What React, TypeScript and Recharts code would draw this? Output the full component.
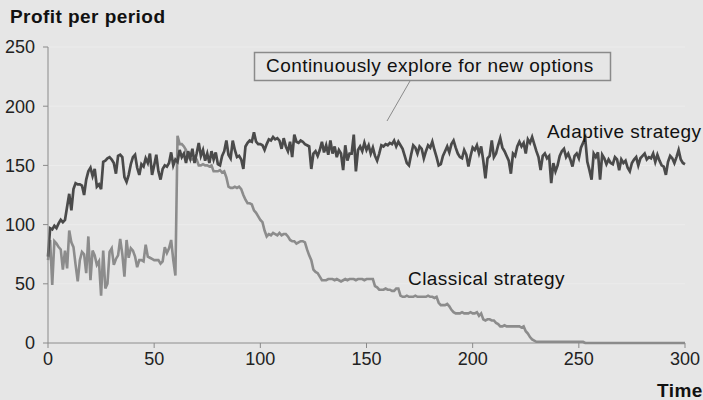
import { LineChart, Line, XAxis, YAxis, CartesianGrid } from "recharts";

// profit per period, one value per time step (t = 0..300)
const adaptive = [
  73, 97, 96, 99, 97, 101, 104, 102, 104, 115,
  126, 112, 130, 135, 134, 134, 133, 125, 138, 145,
  148, 141, 147, 132, 134, 130, 153, 154, 156, 157,
  155, 152, 143, 158, 159, 157, 140, 136, 142, 151,
  157, 159, 148, 142, 151, 149, 156, 152, 160, 142,
  150, 159, 145, 138, 147, 150, 149, 152, 161, 150,
  155, 153, 163, 157, 160, 152, 162, 156, 164, 152,
  160, 169, 158, 163, 154, 160, 152, 162, 155, 161,
  151, 150, 158, 162, 171, 159, 156, 171, 163, 157,
  158, 155, 147, 166, 169, 171, 170, 178, 170, 168,
  168, 167, 163, 168, 172, 171, 174, 172, 173, 171,
  164, 173, 166, 162, 170, 157, 176, 170, 169, 171,
  170, 168, 167, 166, 147, 160, 162, 158, 163, 170,
  161, 167, 159, 171, 160, 166, 157, 163, 160, 146,
  167, 154, 160, 160, 176, 145, 163, 166, 162, 169,
  163, 167, 160, 165, 158, 154, 160, 167, 166, 168,
  167, 169, 168, 171, 166, 170, 167, 164, 158, 152,
  150, 159, 167, 165, 160, 166, 164, 156, 162, 167,
  165, 170, 163, 157, 150, 151, 158, 162, 166, 161,
  168, 171, 165, 160, 157, 156, 163, 159, 149, 158,
  165, 163, 167, 160, 166, 154, 139, 156, 158, 171,
  157, 160, 167, 173, 165, 162, 158, 154, 143, 160,
  158, 166, 170, 166, 169, 160, 172, 169, 174, 168,
  162, 157, 146, 158, 160, 156, 158, 135, 152, 145,
  150, 158, 162, 164, 157, 160, 155, 149, 158, 160,
  156, 165, 169, 173, 153, 146, 138, 160, 157, 161,
  138, 159, 156, 151, 155, 152, 151, 157, 155, 146,
  155, 152, 154, 148, 145, 152, 155, 157, 150, 156,
  158, 160, 155, 157, 156, 160, 153, 159, 154, 150,
  149, 142, 153, 158, 156, 152, 157, 163, 155, 152,
  151,
];

const classical = [
  70, 87, 49, 86, 84, 81, 79, 62, 78, 63,
  95, 85, 81, 66, 52, 70, 77, 75, 59, 90,
  53, 78, 74, 66, 69, 40, 78, 46, 50, 77,
  80, 66, 71, 74, 88, 75, 56, 87, 72, 80,
  78, 73, 64, 70, 70, 69, 83, 73, 72, 71,
  70, 70, 70, 67, 69, 81, 76, 80, 87, 70,
  57, 175, 168, 168, 166, 163, 157, 155, 155, 156,
  155, 150, 150, 151, 150, 150, 149, 150, 145, 145,
  145, 146, 144, 145, 140, 132, 131, 131, 132, 131,
  132, 130, 125, 121, 118, 118, 117, 112, 110, 107,
  104, 102, 95, 90, 92, 91, 93, 92, 91, 93,
  91, 92, 92, 90, 87, 86, 86, 84, 85, 86,
  86, 85, 79, 74, 70, 62, 60, 59, 56, 53,
  53, 53, 54, 54, 54, 53, 54, 53, 52, 53,
  54, 53, 54, 54, 54, 53, 54, 54, 54, 53,
  54, 54, 54, 54, 48, 47, 45, 45, 45, 46,
  45, 45, 44, 44, 46, 46, 40, 39, 39, 40,
  39, 39, 39, 40, 39, 39, 39, 39, 39, 40,
  39, 39, 38, 39, 34, 32, 32, 32, 33, 31,
  28, 26, 25, 25, 25, 26, 25, 25, 25, 26,
  25, 25, 26, 23, 25, 20, 19, 20, 20, 19,
  19, 17, 16, 14, 14, 15, 14, 14, 14, 14,
  14, 14, 14, 13, 14, 10, 8, 5, 3, 2,
  1, 1, 1, 1, 1, 1, 1, 1, 1, 1,
  1, 1, 1, 1, 1, 1, 1, 1, 1, 1,
  1, 1, 1, 0, 0, 0, 0, 0, 0, 0,
  0, 0, 0, 0, 0, 0, 0, 0, 0, 0,
  0, 0, 0, 0, 0, 0, 0, 0, 0, 0,
  0, 0, 0, 0, 0, 0, 0, 0, 0, 0,
  0, 0, 0, 0, 0, 0, 0, 0, 0, 0,
  0,
];

const xTicks = [0, 50, 100, 150, 200, 250, 300];
const yTicks = [0, 50, 100, 150, 200, 250];

const data = adaptive.map((v, i) => ({ t: i, adaptive: v, classical: classical[i] }));

const FONT = "'Liberation Sans', Arial, Helvetica, sans-serif";
const BG = "#e6e6e6";
const AXIS = "#8a8a8a";

const tickStyle = { fontSize: 18, fill: "#222", fontFamily: FONT };
const labelProps = { fontSize: 19, fontFamily: FONT, fill: "#111", letterSpacing: 0.45 };

export default function App() {
  return (
    <div
      style={{
        position: "absolute",
        left: 0,
        top: 0,
        width: 703,
        height: 400,
        background: BG,
        fontFamily: FONT,
        overflow: "hidden",
      }}
    >
      <LineChart
        width={703}
        height={400}
        data={data}
        margin={{ top: 47, right: 18, bottom: 27, left: 0 }}
      >
        <CartesianGrid horizontal vertical={false} stroke="#ececec" strokeWidth={1} />
        <XAxis
          dataKey="t"
          type="number"
          domain={[0, 300]}
          ticks={xTicks}
          tick={tickStyle}
          tickSize={5}
          tickMargin={4}
          stroke={AXIS}
          height={30}
        />
        <YAxis
          type="number"
          domain={[0, 250]}
          ticks={yTicks}
          tick={tickStyle}
          tickSize={5}
          tickMargin={8}
          stroke={AXIS}
          width={48}
        />
        <Line
          dataKey="classical"
          type="linear"
          stroke="#8c8c8c"
          strokeWidth={2.6}
          dot={false}
          isAnimationActive={false}
        />
        <Line
          dataKey="adaptive"
          type="linear"
          stroke="#4a4a4a"
          strokeWidth={2.7}
          dot={false}
          isAnimationActive={false}
        />
      </LineChart>

      {/* annotations */}
      <svg
        width={703}
        height={400}
        style={{ position: "absolute", left: 0, top: 0, pointerEvents: "none" }}
      >
        <line x1={410} y1={81} x2={387} y2={121} stroke="#8a8a8a" strokeWidth={1} />
        <rect x={254.5} y={52.5} width={356} height={28} fill={BG} stroke="#8a8a8a" strokeWidth={1.5} />
        <text x={266} y={72} {...labelProps}>
          Continuously explore for new options
        </text>
        <text x={10} y={23} {...labelProps} fontWeight="bold">
          Profit per period
        </text>
        <text x={547} y={138} {...labelProps}>
          Adaptive strategy
        </text>
        <text x={408} y={285} {...labelProps}>
          Classical strategy
        </text>
        <text x={657} y={397} {...labelProps} fontWeight="bold">
          Time
        </text>
      </svg>
    </div>
  );
}
